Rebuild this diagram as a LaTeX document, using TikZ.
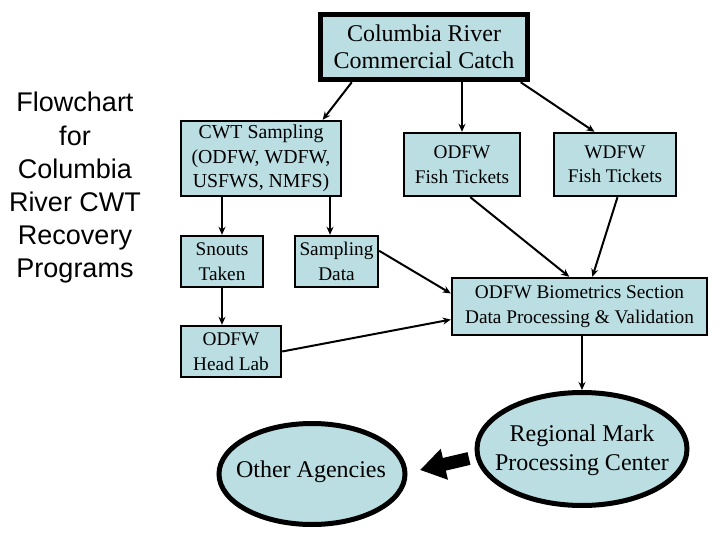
\documentclass[tikz,border=0pt]{standalone}
\usepackage{fontspec}
\setmainfont{Liberation Serif}
\newfontfamily\arialfont{Liberation Sans}
\usetikzlibrary{arrows.meta,calc,shapes.geometric}
\definecolor{boxblue}{RGB}{186,222,226}
\tikzset{
  boxnode/.style={draw=black, fill=boxblue, line width=2.4pt, align=center, inner sep=0pt,
    font=\fontsize{19.3}{24.5}\selectfont},
  bignode/.style={draw=black, fill=boxblue, line width=5.5pt, align=center, inner sep=0pt,
    font=\fontsize{24}{27}\selectfont},
  ovalnode/.style={draw=black, fill=boxblue, line width=5pt, ellipse, inner sep=0pt},
  ovaltext/.style={align=center, inner sep=0pt, font=\fontsize{24}{29}\selectfont},
  conn/.style={line width=2pt, -{Stealth[length=8pt,width=7pt]}},
  blockarrow/.style={line width=13pt, -{Triangle[length=25pt,width=30pt]}}
}
\begin{document}
\begin{tikzpicture}[x=1pt,y=-1pt]
\useasboundingbox (0,0) rectangle (720,540);
\fill[white] (0,0) rectangle (720,540);

\node[align=center, font=\arialfont\fontsize{27}{33.2}\selectfont] (title) at (75,188)
  {Flowchart\\for\\Columbia\\River CWT\\Recovery\\Programs};

\node[bignode, minimum width=207pt, minimum height=65pt] (catch) at (424,47)
  {Columbia River\\Commercial Catch};

\node[boxnode, minimum width=160pt, minimum height=75pt, font=\fontsize{19.8}{24.5}\selectfont] (cwt) at (261,158.5)
  {CWT Sampling\\(ODFW, WDFW,\\USFWS, NMFS)};
\node[boxnode, minimum width=82pt, minimum height=51pt] (snouts) at (222,261.5) {Snouts\\Taken};
\node[boxnode, minimum width=83pt, minimum height=51pt] (sdata) at (336.5,261.5) {Sampling\\Data};
\node[boxnode, minimum width=100pt, minimum height=51pt] (head) at (231,351.5) {ODFW\\Head Lab};
\node[boxnode, minimum width=116pt, minimum height=63pt] (oft) at (462,164.5) {ODFW\\Fish Tickets};
\node[boxnode, minimum width=122pt, minimum height=63pt] (wft) at (615,164.5) {WDFW\\Fish Tickets};
\node[boxnode, minimum width=255pt, minimum height=57pt] (bio) at (579.5,306.5)
  {ODFW Biometrics Section\\Data Processing \& Validation};

\node[ovalnode, minimum width=210pt, minimum height=113pt] (rmpc) at (582,449) {};
\node[ovaltext] (rmpctext) at (582,450) {Regional Mark\\Processing Center};
\node[ovalnode, minimum width=186pt, minimum height=101pt] (other) at (312,474) {};
\node[ovaltext] (othertext) at (311,472) {Other Agencies};

% connectors
\draw[conn] ($(catch.south west)!0.16!(catch.south east)$) -- ($(cwt.north west)!0.88!(cwt.north east)$);
\draw[conn] (catch.south -| oft.north) -- (oft.north);
\draw[conn] ($(catch.south west)!0.955!(catch.south east)$) -- ($(wft.north west)!0.335!(wft.north east)$);
\draw[conn] (cwt.south -| snouts.north) -- (snouts.north);
\draw[conn] ($(cwt.south west)!0.925!(cwt.south east)$) coordinate (cwtR) -- (cwtR |- sdata.north);
\draw[conn] (snouts.south) -- (snouts.south |- head.north);
\draw[conn] ($(sdata.north east)!0.3!(sdata.south east)$) -- ($(bio.north west)!0.28!(bio.south west)$);
\draw[conn] (head.east) -- ($(bio.north west)!0.72!(bio.south west)$);
\draw[conn] ($(oft.south west)!0.57!(oft.south east)$) -- ($(bio.north west)!0.46!(bio.north east)$);
\draw[conn] ($(wft.south west)!0.52!(wft.south east)$) -- ($(bio.north west)!0.55!(bio.north east)$);
\draw[conn] (bio.south -| rmpc.north) -- (rmpc.north);

\coordinate (bt) at (469,458.5);
\coordinate (bh) at (420,470);
\draw[blockarrow] (bt) -- (bh);
\end{tikzpicture}
\end{document}
